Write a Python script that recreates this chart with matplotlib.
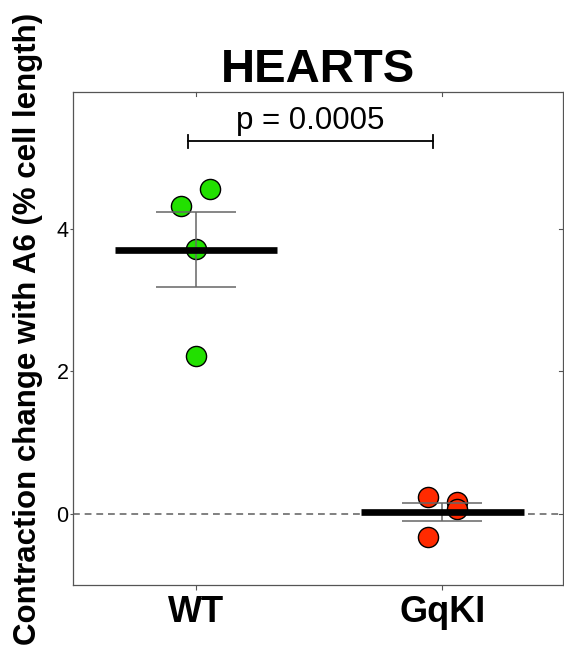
import numpy as np
import matplotlib
matplotlib.use("Agg")
import matplotlib.pyplot as plt

# ---- data ----
groups = ["WT", "GqKI"]
wt_values = [4.32, 4.56, 3.72, 2.22]
wt_offsets = [-0.06, 0.057, 0.0, 0.0]
gq_values = [0.23, -0.33, 0.16, 0.06]
gq_offsets = [-0.06, -0.06, 0.06, 0.06]
colors = ["#22e000", "#ff2a00"]
p_text = "p = 0.0005"
yticks = [0, 2, 4]

plt.rcParams['font.family'] = ['Liberation Sans', 'DejaVu Sans']

fig = plt.figure(figsize=(5.64, 6.61), dpi=100)
ax = fig.add_axes([73/564, 1-585/661, 490/564, 493/661])

values = [wt_values, gq_values]
offsets = [wt_offsets, gq_offsets]
for i, (vals, offs, col) in enumerate(zip(values, offsets, colors)):
    xc = i + 1
    v = np.array(vals)
    xs = xc + np.array(offs)
    ax.scatter(xs, v, s=14.5**2, c=col, edgecolors='black', linewidths=1.0, zorder=3)
    m = v.mean()
    sem = v.std(ddof=1) / np.sqrt(len(v))
    ax.errorbar([xc], [m], yerr=[sem], fmt='none', ecolor='#666666',
                elinewidth=1.1, capsize=29, capthick=1.1, zorder=4)
    ax.plot([xc - 0.33, xc + 0.33], [m, m], color='black', lw=4.8,
            solid_capstyle='butt', zorder=5)

ax.axhline(0, color='#808080', lw=1.4, ls=(0, (3.5, 2.5)), zorder=1)

# significance bracket
yb = 5.23
ax.plot([0.967, 1.963], [yb, yb], color='black', lw=1.3, zorder=5)
for xb in (0.967, 1.963):
    ax.plot([xb, xb], [yb - 0.09, yb + 0.09], color='black', lw=1.3, zorder=5)
ax.text(1.465, yb + 0.07, p_text, ha='center', va='bottom', fontsize=22.5)

ax.set_xlim(0.5, 2.49)
ax.set_ylim(-1.0, 5.92)
ax.set_xticks([1, 2])
ax.set_xticklabels(groups, fontsize=26, fontweight='bold')
ax.set_yticks(yticks)
ax.set_yticklabels([str(t) for t in yticks], fontsize=15.5)

for sp in ax.spines.values():
    sp.set_color('#555555')
    sp.set_linewidth(0.9)

ax.tick_params(axis='y', which='both', direction='out', length=2.5, width=0.8,
               color='#555555', pad=0.8, right=False)
ax.tick_params(axis='x', which='both', direction='out', length=3.5, width=0.8,
               color='#555555', pad=4, top=False)

# inward mirrored ticks on right / top
for yt in yticks:
    ax.plot([1, 1 - 0.008], [yt, yt], transform=ax.get_yaxis_transform(which='grid'),
            color='#555555', lw=0.8, clip_on=False)
for xt in [1, 2]:
    ax.plot([xt, xt], [1, 1 - 0.009], transform=ax.get_xaxis_transform(which='grid'),
            color='#555555', lw=0.8, clip_on=False)

ax.set_title("HEARTS", fontsize=34, fontweight='bold', pad=6.3)

fig.text(28/564, 1 - 329/661, "Contraction change with A6 (% cell length)",
         rotation=90, ha='center', va='center', fontsize=22.5, fontweight='bold')

fig.savefig("out.png", dpi=100)
